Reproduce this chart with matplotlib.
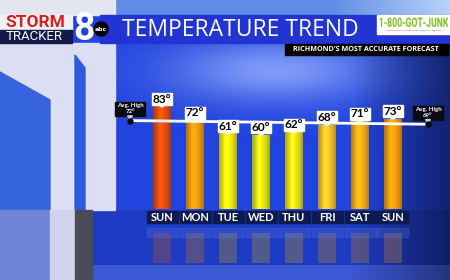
import numpy as np
import matplotlib
matplotlib.use('Agg')
import matplotlib.pyplot as plt
from matplotlib.patches import Rectangle, Polygon, Circle, PathPatch
from matplotlib.textpath import TextPath
from matplotlib.font_manager import FontProperties
from matplotlib.transforms import Affine2D

# ---- data ----
days = ['SUN', 'MON', 'TUE', 'WED', 'THU', 'FRI', 'SAT', 'SUN']
highs = [83, 72, 61, 60, 62, 68, 71, 73]
avg_high = [72, 69]
title = 'TEMPERATURE TREND'
subtitle = "RICHMOND'S MOST ACCURATE FORECAST"

# ---- styles ----
bar_colors = ['#e8500e', '#f5a010', '#f2ee12', '#e2ec12', '#f0e616',
              '#f8c62a', '#f8b01a', '#f8a010']

W, H = 450, 280
fig = plt.figure(figsize=(4.5, 2.8), dpi=100)
bg = fig.add_axes([0, 0, 1, 1])
bg.set_xlim(0, W)
bg.set_ylim(H, 0)
bg.axis('off')

# background gradient
yy, xx = np.mgrid[0:H, 0:W].astype(float)
img = np.ones((H, W, 3)) * np.array([34, 68, 222]) / 255
glow = np.exp(-((xx - 275) / 105) ** 2 - ((yy - 70) / 32) ** 2)
img += glow[..., None] * np.array([0.36, 0.34, 0.10])
dark = np.clip((xx - 350) / 100, 0, 1)
img *= (1 - 0.5 * dark)[..., None]
low = yy > 209
img[low] = img[low] * 0.88
strip = yy > 264
img[strip] = (np.array([60, 88, 212]) / 255 * (1 - 0.4 * dark[strip, None]))
top = yy < 15
skyc = np.array([95, 140, 228]) / 255 + np.clip((xx - 330) / 120, 0, 1)[..., None] * np.array([0.35, 0.28, 0.08])
img[top] = skyc[top]
img = np.clip(img, 0, 1)
bg.imshow(img, extent=(0, W, H, 0), aspect='auto', zorder=0)

# left decorative panel
bg.add_patch(Rectangle((0, 0), 115, 15, color='#e3e5ef', zorder=1))
bg.add_patch(Rectangle((0, 43), 115, 167, color='#dcdff3', zorder=1))
bg.add_patch(Polygon([(0, 72), (50, 100), (50, 210), (0, 210)], color='#3563dd', zorder=1))
bg.add_patch(Polygon([(75, 55), (85, 68), (85, 210), (75, 210)], color='#2d5be0', zorder=1))
bg.add_patch(Rectangle((0, 210), 50, 70, color='#6f86d6', zorder=1))
bg.add_patch(Rectangle((50, 210), 25, 70, color='#d0d4ee', zorder=1))
bg.add_patch(Rectangle((75, 210), 17, 70, color='#4a4a58', zorder=1))

# header band
bg.add_patch(Rectangle((100, 15), 350, 28, color='#2234d2', zorder=2))
bg.add_patch(Rectangle((0, 15), 72, 15, color='#f2f2f4', zorder=2))
bg.add_patch(Rectangle((0, 30), 72, 13, color='#111a48', zorder=2))
bg.text(35, 22.5, 'STORM', color='#d42020', fontsize=12.5, fontweight='bold',
        family='Roboto', ha='center', va='center', zorder=3)
bg.text(34, 37, 'TRACKER', color='white', fontsize=9.5, family='Roboto',
        ha='center', va='center', zorder=3)
bg.text(84, 30, '8', color='white', fontsize=27, fontweight='bold',
        family='Roboto', ha='center', va='center', zorder=3)
bg.add_patch(Circle((101, 29), 7, color='black', zorder=4))
bg.text(101, 29.5, 'abc', color='white', fontsize=4.5, fontweight='bold',
        ha='center', va='center', zorder=5)
bg.text(240, 29.5, title, color='white', fontsize=16.5, family='Open Sans',
        ha='center', va='center', zorder=3)

# 1-800-GOT-JUNK logo (condensed via path scaling)
bg.add_patch(Rectangle((377, 15), 73, 19, color='white', zorder=3))
tp = TextPath((0, 0), '1-800-GOT-JUNK', size=10, prop=FontProperties(family='Roboto', weight='bold'))
ext = tp.get_extents()
sx = 69 / ext.width
sy = 9.5 / ext.height
tr = Affine2D().translate(-ext.x0, -ext.y0).scale(sx, -sy).translate(379.5, 27) + bg.transData
bg.add_patch(PathPatch(tp, facecolor='#7cc21a', edgecolor='none', transform=tr, zorder=4))
bg.text(414, 30.5, "THE WORLD'S LARGEST JUNK REMOVAL SERVICE", color='#555555',
        fontsize=1.6, ha='center', va='center', zorder=4)
bg.add_patch(Rectangle((285, 44), 163, 11, color='black', zorder=3))
bg.text(366, 49.5, subtitle, color='white', fontsize=5.2, fontweight='bold',
        family='Open Sans', ha='center', va='center', zorder=4)

# ---- bar axes ----
PXU = 33.0          # px per x unit
PXD = 1.2325        # px per degree
x0px, base_px = 145.5, 209.3
ax = fig.add_axes([x0px / W, (H - base_px) / H, 8 * PXU / W, 90 * PXD / H])
ax.set_xlim(-0.5, 7.5)
ax.set_ylim(0, 90)
ax.axis('off')
ax.patch.set_alpha(0)

n = len(days)
xs = np.arange(n)
bw = 18 / PXU
t = np.linspace(0, 1, 40)
prof = 0.72 + 0.3 * np.sin(np.pi * t) + 0.12 * np.exp(-((t - 0.4) / 0.12) ** 2)

# reflections
ax.bar(xs, -(263 - 233) / PXD, bottom=-(233 - base_px) / PXD, width=bw,
       color='#54487e', alpha=0.5, zorder=1, clip_on=False)
ax.bar(xs, -(263 - 233) / PXD, bottom=-(233 - base_px) / PXD, width=bw,
       color=bar_colors, alpha=0.15, zorder=1, clip_on=False)

for i, v in enumerate(highs):
    c = np.array(matplotlib.colors.to_rgb(bar_colors[i]))
    strip_img = np.clip(c[None, :] * prof[:, None], 0, 1)[None, :, :]
    ax.imshow(strip_img, extent=(i - bw / 2, i + bw / 2, 0, v), aspect='auto',
              zorder=2, interpolation='bilinear')
    bh = 12 / PXD
    by = v + 2 / PXD
    ax.add_patch(Rectangle((i - 10 / PXU, by), 20 / PXU, bh, color='white', zorder=4, clip_on=False))
    ax.add_patch(Polygon([(i - 3 / PXU, by), (i + 3 / PXU, by), (i, by - 2 / PXD)],
                         color='white', zorder=4, clip_on=False))
    ax.text(i, by + bh / 2, f'{v}°', color='black', fontsize=8.5, fontweight='bold',
            family='Lato', ha='center', va='center', zorder=5, clip_on=False)
    ax.add_patch(Rectangle((i - 15.5 / PXU, -14 / PXD), 31 / PXU, 12 / PXD,
                           color='#0e1a52', zorder=4, clip_on=False))
    ax.add_patch(Rectangle((i - 15.5 / PXU, -(237 - base_px) / PXD), 31 / PXU, 9 / PXD,
                           color='#5a78e0', alpha=0.25, zorder=1, clip_on=False))
    ax.text(i, -8 / PXD, days[i], color='white', fontsize=8, fontweight='bold',
            family='Lato', ha='center', va='center', zorder=5, clip_on=False)

ax.set_xlim(-0.5, 7.5)
ax.set_ylim(0, 90)

# average high line
lx = [(130 - x0px) / PXU - 0.5, (428 - x0px) / PXU - 0.5]
ax.plot(lx, avg_high, color='white', lw=2, zorder=3, clip_on=False, solid_capstyle='butt')
ax.plot(lx, avg_high, 'o', color='black', ms=3.5, zorder=6, clip_on=False)
for xl, a in zip(lx, avg_high):
    cy = a + 9.5
    ax.add_patch(Rectangle((xl - 15 / PXU, cy - 7 / PXD), 30 / PXU, 14 / PXD,
                           color='#0b0b14', zorder=5, clip_on=False))
    ax.add_patch(Polygon([(xl - 2.5 / PXU, cy - 7 / PXD), (xl + 2.5 / PXU, cy - 7 / PXD),
                          (xl, cy - 10 / PXD)], color='#c8cce0', zorder=5, clip_on=False))
    ax.text(xl, cy + 3 / PXD, 'Avg. High', color='white', fontsize=4.4, fontweight='bold',
            family='Lato', ha='center', va='center', zorder=6, clip_on=False)
    ax.text(xl, cy - 3 / PXD, f'{a}°', color='white', fontsize=4.4, fontweight='bold',
            family='Lato', ha='center', va='center', zorder=6, clip_on=False)

fig.savefig('out.png', dpi=100)
